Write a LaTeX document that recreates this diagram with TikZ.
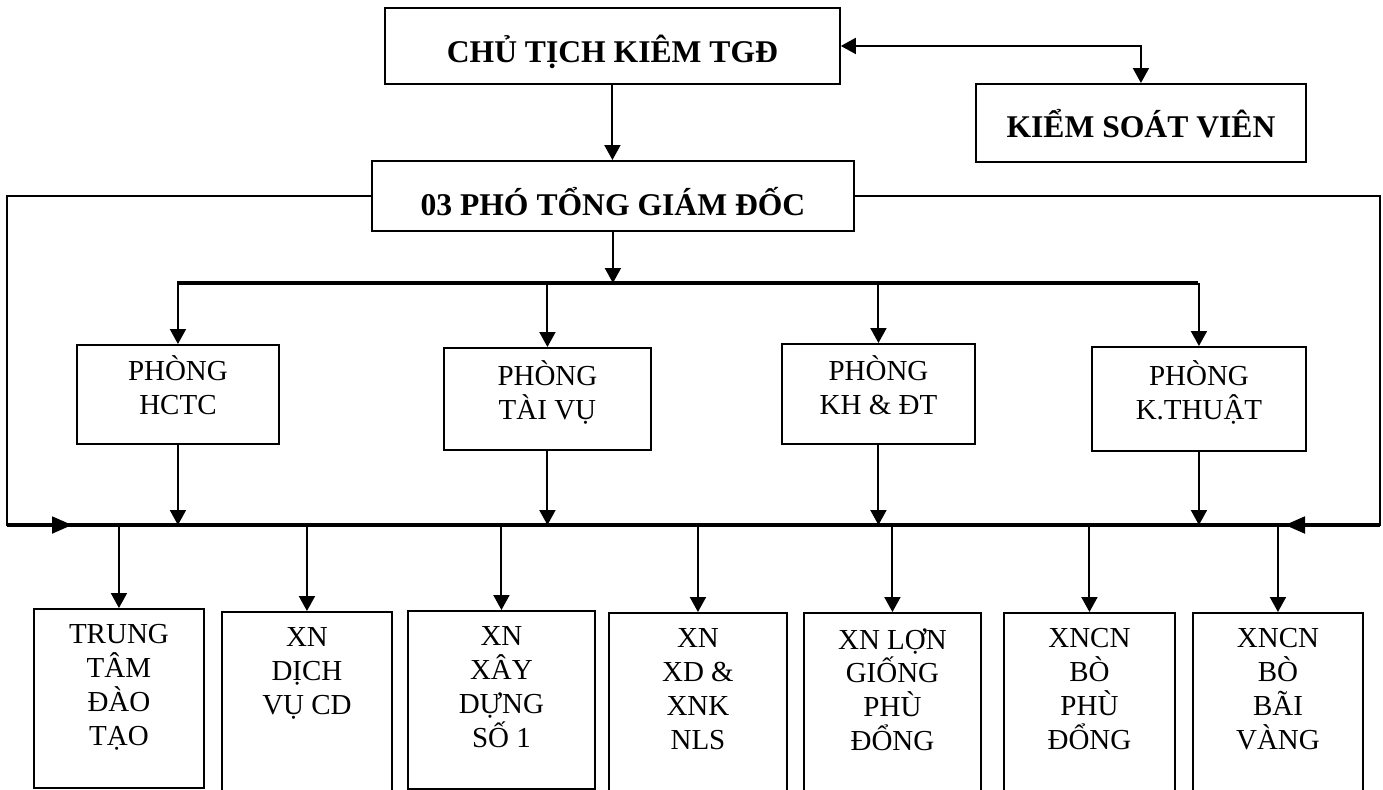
\documentclass[tikz,border=0pt]{standalone}
\usepackage{fontspec}
\setmainfont{Liberation Serif}
\usetikzlibrary{arrows.meta}

\begin{document}
\begin{tikzpicture}[x=0.02cm, y=-0.02cm,
		frame/.style={draw, line width=1.1pt, inner sep=0pt, anchor=north west},
		headbox/.style={frame, font=\fontsize{18}{22}\selectfont\bfseries},
		deptbox/.style={frame, align=center, text depth=0.36cm, font=\fontsize{16.5}{19.3}\selectfont},
		unittext/.style={inner sep=0pt, align=center, anchor=north, yshift=-0.32cm, font=\fontsize{16.5}{19.3}\selectfont},
		link/.style={line width=1.1pt, -{Triangle[length=0.3cm, width=0.32cm]}},
		inlink/.style={line width=1.1pt, -{Triangle[length=0.4cm, width=0.34cm]}},
		bus/.style={line width=2.5pt}]
			%%%%% START %%%%%
			\useasboundingbox (0,0) rectangle (1383,789);
			
			\node[headbox, minimum width=9.1cm, text height=1.1cm, text depth=0.42cm] (ct) at (384,7) {CHỦ TỊCH KIÊM TGĐ};
			\node[headbox, minimum width=6.6cm, text height=1.08cm, text depth=0.48cm] (ksv) at (975,83) {KIỂM SOÁT VIÊN};
			\node[headbox, minimum width=9.64cm, text height=1.1cm, text depth=0.3cm] (ptgd) at (371,160) {03 PHÓ TỔNG GIÁM ĐỐC};
			
			\draw[link] (ct.south) -- (ct.south |- ptgd.north);
			\draw[line width=1.1pt, {Triangle[length=0.3cm, width=0.32cm]}-{Triangle[length=0.3cm, width=0.32cm]}] (ct.east) -| (ksv.north);
			
			% phong ban
			\node[deptbox, minimum width=4.04cm, minimum height=1.98cm] (hctc) at (76,344) {PHÒNG\\HCTC};
			\node[deptbox, minimum width=4.14cm, minimum height=2.04cm] (taivu) at (443,347) {PHÒNG\\TÀI VỤ};
			\node[deptbox, minimum width=3.86cm, minimum height=2.0cm] (khdt) at (781,343) {PHÒNG\\KH \& ĐT};
			\node[deptbox, minimum width=4.28cm, minimum height=2.08cm] (kthuat) at (1091,346) {PHÒNG\\K.THUẬT};
			
			\coordinate (busA-w) at (177,283);
			\coordinate (busA-e) at (1198,283);
			\draw[bus] (busA-w) -- (busA-e);
			\draw[link] (ptgd.south) -- (ptgd.south |- busA-w);
			\foreach \n in {hctc,taivu,khdt,kthuat}
				\draw[link] (\n.north |- busA-w) -- (\n.north);
			
			% duong vong ngoai
			\coordinate (busB-w) at (7,525);
			\coordinate (busB-e) at (1380,525);
			\coordinate (inL) at (72,525);
			\coordinate (inR) at (1285,525);
			\draw[bus] (busB-w) -- (busB-e);
			\draw[inlink] (ptgd.west) -| (busB-w) -- (inL);
			\draw[inlink] (ptgd.east) -| (busB-e) -- (inR);
			\foreach \n in {hctc,taivu,khdt,kthuat}
				\draw[link] (\n.south) -- (\n.south |- busB-w);
			
			% xi nghiep
			\node[frame, minimum width=3.4cm, minimum height=3.58cm, label={[unittext]north:TRUNG\\TÂM\\ĐÀO\\TẠO}] (ttdt) at (33,608) {};
			\node[frame, minimum width=3.4cm, minimum height=3.78cm, label={[unittext]north:XN\\DỊCH\\VỤ CD}] (dvcd) at (221,611) {};
			\node[frame, minimum width=3.74cm, minimum height=3.56cm, label={[unittext]north:XN\\XÂY\\DỰNG\\SỐ 1}] (xd1) at (407,610) {};
			\node[frame, minimum width=3.56cm, minimum height=3.76cm, label={[unittext]north:XN\\XD \&\\XNK\\NLS}] (xdxnk) at (608,612) {};
			\node[frame, minimum width=3.54cm, minimum height=3.76cm, label={[unittext]north:XN LỢN\\GIỐNG\\PHÙ\\ĐỔNG}] (lgpd) at (803,612) {};
			\node[frame, minimum width=3.42cm, minimum height=3.76cm, label={[unittext]north:XNCN\\BÒ\\PHÙ\\ĐỔNG}] (bopd) at (1003,612) {};
			\node[frame, minimum width=3.4cm, minimum height=3.76cm, label={[unittext]north:XNCN\\BÒ\\BÃI\\VÀNG}] (bobv) at (1192,612) {};
			
			\foreach \n in {ttdt,dvcd,xd1,xdxnk,lgpd,bopd,bobv}
				\draw[link] (\n.north |- busB-w) -- (\n.north);
			
			%%%%% END %%%%%
\end{tikzpicture}
\end{document}
